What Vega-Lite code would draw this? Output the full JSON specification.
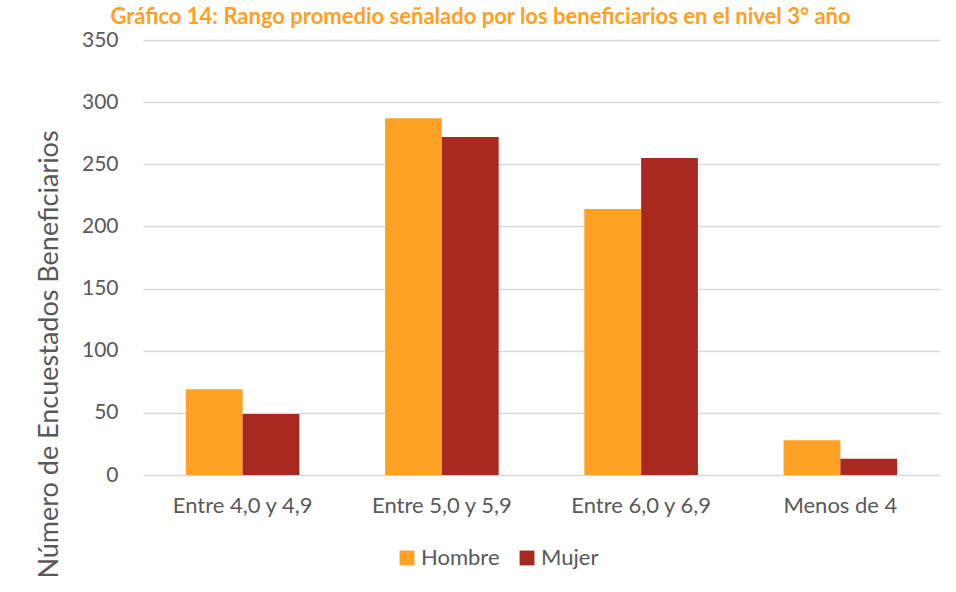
{
  "$schema": "https://vega.github.io/schema/vega-lite/v6.json",
  "width": 797,
  "height": 435,
  "autosize": {"type": "none"},
  "padding": {"left": 143, "top": 40, "right": 16, "bottom": 117},
  "background": "white",
  "title": {
    "text": "Gráfico 14: Rango promedio señalado por los beneficiarios en el nivel 3° año",
    "color": "#FFA024",
    "font": "Lato",
    "fontSize": 22,
    "fontWeight": "bold",
    "anchor": "middle",
    "frame": "group",
    "dx": -61,
    "dy": 42,
    "offset": 25,
    "baseline": "alphabetic"
  },
  "data": {
    "values": [
      {"rango": "Entre 4,0 y 4,9", "sexo": "Hombre", "n": 69},
      {"rango": "Entre 4,0 y 4,9", "sexo": "Mujer", "n": 49},
      {"rango": "Entre 5,0 y 5,9", "sexo": "Hombre", "n": 287},
      {"rango": "Entre 5,0 y 5,9", "sexo": "Mujer", "n": 272},
      {"rango": "Entre 6,0 y 6,9", "sexo": "Hombre", "n": 214},
      {"rango": "Entre 6,0 y 6,9", "sexo": "Mujer", "n": 255},
      {"rango": "Menos de 4", "sexo": "Hombre", "n": 28},
      {"rango": "Menos de 4", "sexo": "Mujer", "n": 13}
    ]
  },
  "mark": {"type": "bar"},
  "encoding": {
    "x": {
      "field": "rango",
      "type": "nominal",
      "sort": ["Entre 4,0 y 4,9", "Entre 5,0 y 5,9", "Entre 6,0 y 6,9", "Menos de 4"],
      "scale": {"paddingInner": 0.43, "paddingOuter": 0.215},
      "axis": {
        "title": null,
        "labelAngle": 0,
        "labelFont": "Lato",
        "labelFontSize": 22,
        "labelColor": "#595959",
        "labelPadding": 20,
        "domain": false,
        "ticks": false
      }
    },
    "xOffset": {"field": "sexo", "type": "nominal", "scale": {"paddingInner": 0, "paddingOuter": 0}},
    "y": {
      "field": "n",
      "type": "quantitative",
      "scale": {"domain": [0, 350], "nice": false},
      "axis": {
        "title": "Número de Encuestados Beneficiarios",
        "titleFont": "Lato",
        "titleFontSize": 27,
        "titleFontWeight": "normal",
        "titleColor": "#595959",
        "titlePadding": 18,
        "titleY": 314,
        "labelFont": "Lato",
        "labelFontSize": 21,
        "labelColor": "#595959",
        "labelPadding": 25,
        "values": [0, 50, 100, 150, 200, 250, 300, 350],
        "domain": false,
        "ticks": false,
        "grid": true,
        "gridColor": "#D9D9D9",
        "gridWidth": 1.5
      }
    },
    "color": {
      "field": "sexo",
      "type": "nominal",
      "scale": {"domain": ["Hombre", "Mujer"], "range": ["#FFA125", "#A8291F"]},
      "legend": {
        "title": null,
        "orient": "none",
        "legendX": 253,
        "legendY": 507,
        "direction": "horizontal",
        "symbolType": "square",
        "symbolSize": 220,
        "symbolStrokeWidth": 0,
        "symbolOffset": 0,
        "labelOffset": 3,
        "labelFont": "Lato",
        "labelFontSize": 22,
        "labelColor": "#595959",
        "columnPadding": 16
      }
    }
  },
  "config": {
    "view": {"stroke": null},
    "axis": {"gridCap": "butt"}
  }
}
